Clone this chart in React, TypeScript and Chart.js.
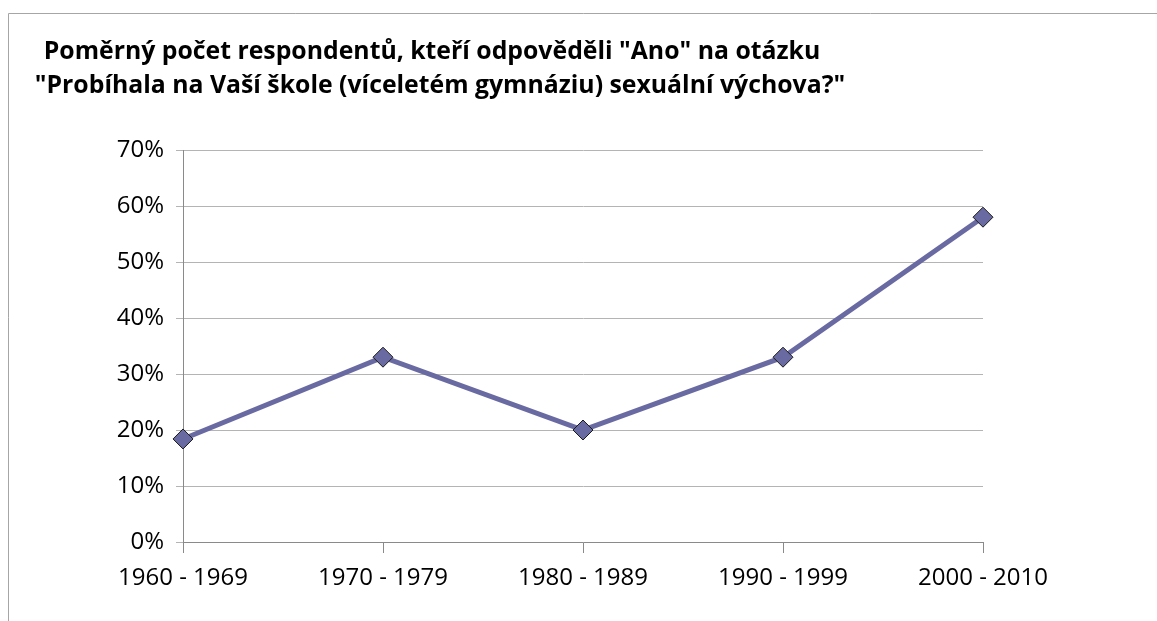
import React, { useEffect, useRef } from "react";
import { Chart, registerables } from "chart.js";

Chart.register(...registerables);

const categories = ["1960 - 1969", "1970 - 1979", "1980 - 1989", "1990 - 1999", "2000 - 2010"];
const yesShare = [18.4, 33, 20, 33, 58];
const titleLines = [
  "Poměrný počet respondentů, kteří odpověděli \"Ano\" na otázku",
  "\"Probíhala na Vaší škole (víceletém gymnáziu) sexuální výchova?\"",
];

const FONT = "'Open Sans', 'DejaVu Sans', sans-serif";

const framePlugin = {
  id: "frameTitle",
  afterDraw(chart: any) {
    const ctx = chart.ctx;
    ctx.save();
    ctx.strokeStyle = "#a6a6a6";
    ctx.lineWidth = 1;
    ctx.beginPath();
    ctx.moveTo(8.5, 700);
    ctx.lineTo(8.5, 13.5);
    ctx.lineTo(1200, 13.5);
    ctx.stroke();
    ctx.fillStyle = "#000";
    ctx.font = `bold 24.8px ${FONT}`;
    ctx.textAlign = "center";
    ctx.textBaseline = "alphabetic";
    ctx.fillText(titleLines[0], 432, 59);
    ctx.fillText(titleLines[1], 440, 93);
    ctx.restore();
  },
};

export default function App() {
  const ref = useRef<HTMLCanvasElement>(null);
  useEffect(() => {
    document.body.style.margin = "0";
    const chart = new Chart(ref.current!, {
      type: "line",
      data: {
        labels: categories,
        datasets: [
          {
            data: yesShare,
            borderColor: "#6a6aa2",
            borderWidth: 5,
            backgroundColor: "#6a6aa2",
            pointStyle: "rectRot",
            pointRadius: 10,
            pointBackgroundColor: "#6a6aa2",
            pointBorderColor: "#1a1a1a",
            pointBorderWidth: 1,
            tension: 0,
          },
        ],
      },
      options: {
        animation: false,
        responsive: false,
        devicePixelRatio: 1,
        layout: { padding: { left: 0, right: 174, top: 150, bottom: 0 } },
        plugins: { legend: { display: false }, title: { display: false }, tooltip: { enabled: false } },
        scales: {
          x: {
            offset: false,
            grid: { drawOnChartArea: false, drawTicks: true, tickLength: 11, color: "#8a8a8a" },
            border: { display: true, color: "#8a8a8a" },
            ticks: { color: "#000", font: { family: FONT, size: 24 }, padding: 11, maxRotation: 0 },
            afterFit: (s: any) => { s.height = 79; },
          },
          y: {
            min: 0,
            max: 70,
            grid: { color: "#b4b4b4", drawTicks: true, tickLength: 7 },
            border: { display: true, color: "#8a8a8a" },
            ticks: {
              stepSize: 10,
              color: "#000",
              font: { family: FONT, size: 24 },
              padding: 12,
              callback: (v: any) => `${v}%`,
            },
            afterFit: (s: any) => { s.width = 183; },
          },
        },
      },
      plugins: [framePlugin],
    });
    return () => chart.destroy();
  }, []);
  return (
    <div style={{ position: "relative", width: 1157, height: 621 }}>
      <canvas ref={ref} width={1157} height={621} style={{ display: "block", width: 1157, height: 621 }} />
    </div>
  );
}
